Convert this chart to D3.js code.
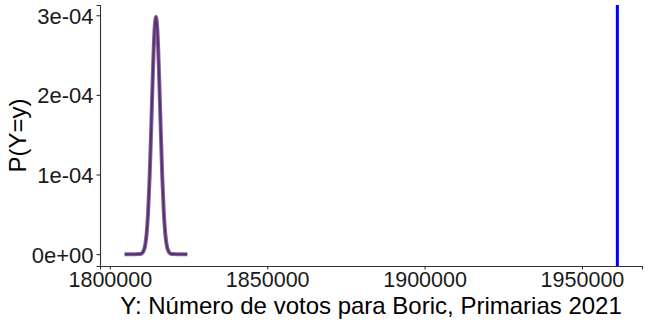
<!DOCTYPE html>
<html>
<head>
<meta charset="utf-8">
<script src="https://cdn.jsdelivr.net/npm/d3@7"></script>
<style>
  body { margin: 0; background: #fff; }
  svg { display: block; font-family: "Liberation Sans", Arial, sans-serif; }
</style>
</head>
<body>
<div id="chart"></div>
<script>
// distribución de votos
const votos = [1804700, 1809650, 1810150, 1810650, 1811150, 1811650, 1812150, 1812650,
  1813150, 1813650, 1814150, 1814650, 1815150, 1815650, 1816150, 1816650, 1817150,
  1817650, 1818150, 1818650, 1819150, 1819650, 1824600];
const prob = [0, 0.003e-4, 0.01e-4, 0.034e-4, 0.098e-4, 0.24e-4, 0.52e-4, 0.98e-4,
  1.59e-4, 2.25e-4, 2.78e-4, 2.98e-4, 2.78e-4, 2.25e-4, 1.59e-4, 0.98e-4, 0.52e-4,
  0.24e-4, 0.098e-4, 0.034e-4, 0.01e-4, 0.003e-4, 0];
const observado = [1961250];
const xTicks = [1800000, 1850000, 1900000, 1950000];
const yTicks = [0, 1e-4, 2e-4, 3e-4];
const yTickLabels = ['0e+00', '1e-04', '2e-04', '3e-04'];

const width = 648, height = 324;
const margin = { top: 5, right: 6, bottom: 58, left: 100 };

const svg = d3.select('#chart').append('svg')
  .attr('width', width)
  .attr('height', height);

const xMin = d3.min(votos), xMax = d3.max([...votos, ...observado]);
const xPad = (xMax - xMin) * 0.05;
const x = d3.scaleLinear()
  .domain([xMin - xPad, xMax + xPad])
  .range([margin.left, width - margin.right]);
const yMax = d3.max(prob);
const y = d3.scaleLinear()
  .domain([-yMax * 0.05, yMax * 1.05])
  .range([height - margin.bottom, margin.top]);

const data = votos.map((v, i) => ({ v, p: prob[i] }));

const line = d3.line()
  .x(d => x(d.v))
  .y(d => y(d.p))
  .curve(d3.curveMonotoneX);

svg.append('path')
  .datum(data)
  .attr('fill', 'none')
  .attr('stroke', '#84689c')
  .attr('stroke-width', 4)
  .attr('stroke-linejoin', 'round')
  .attr('d', line);
svg.append('path')
  .datum(data)
  .attr('fill', 'none')
  .attr('stroke', '#5a3072')
  .attr('stroke-width', 2)
  .attr('stroke-linejoin', 'round')
  .attr('d', line);

svg.selectAll('line.obs')
  .data(observado)
  .join('line')
  .attr('class', 'obs')
  .attr('x1', d => x(d)).attr('x2', d => x(d))
  .attr('y1', margin.top).attr('y2', height - margin.bottom)
  .attr('stroke', '#0000ff')
  .attr('stroke-width', 3);

const xAxis = svg.append('g')
  .attr('transform', `translate(0,${height - margin.bottom})`)
  .call(d3.axisBottom(x).tickValues(xTicks).tickFormat(d3.format('d')).tickSizeOuter(0).tickSize(3.5).tickPadding(3));
const yAxis = svg.append('g')
  .attr('transform', `translate(${margin.left},0)`)
  .call(d3.axisLeft(y).tickValues(yTicks).tickFormat((d, i) => yTickLabels[i]).tickSizeOuter(0).tickSize(3.5).tickPadding(3));

[xAxis, yAxis].forEach(a => {
  a.select('.domain').attr('stroke', '#333').attr('stroke-width', 1.1);
  a.selectAll('.tick line').attr('stroke', '#333').attr('stroke-width', 1.1);
  a.selectAll('.tick text').attr('fill', '#1a1a1a').attr('font-size', 22);
});
xAxis.selectAll('.tick text').attr('font-size', 21.5).attr('dy', '0.66em');
yAxis.selectAll('.tick text').attr('dy', '0.36em');

svg.append('text')
  .attr('x', (margin.left + width - margin.right) / 2)
  .attr('y', 313.5)
  .attr('text-anchor', 'middle')
  .attr('font-size', 24)
  .attr('fill', '#000')
  .text('Y: Número de votos para Boric, Primarias 2021');

svg.append('text')
  .attr('transform', `translate(26,${(margin.top + height - margin.bottom) / 2}) rotate(-90)`)
  .attr('text-anchor', 'middle')
  .attr('font-size', 24)
  .attr('fill', '#000')
  .text('P(Y=y)');
</script>
</body>
</html>
